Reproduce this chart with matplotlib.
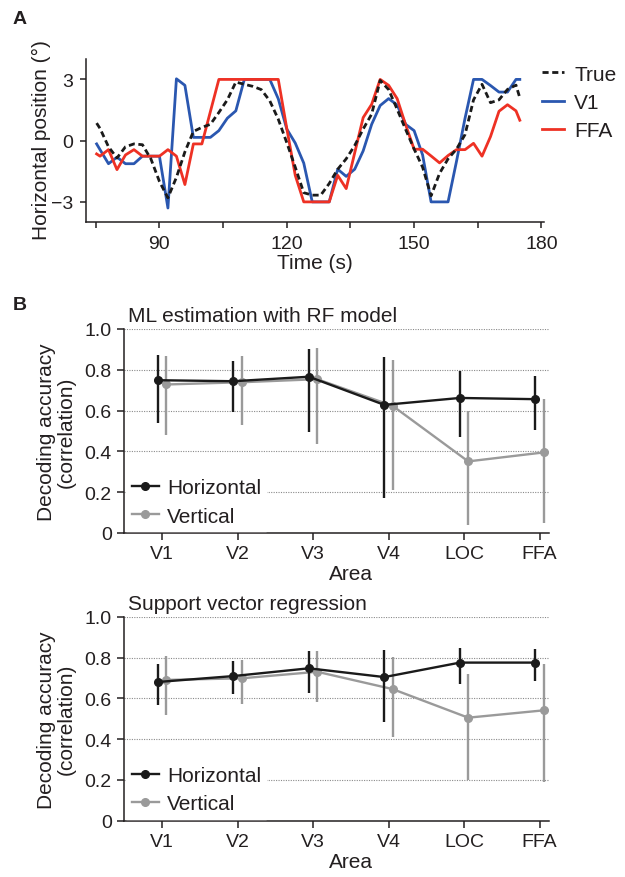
import numpy as np
import matplotlib
matplotlib.use('Agg')
import matplotlib.pyplot as plt
from matplotlib.ticker import FixedLocator
from matplotlib.lines import Line2D

plt.rcParams['font.family'] = ['Liberation Sans', 'DejaVu Sans']
TXT = '#231f20'
plt.rcParams['text.color'] = TXT
plt.rcParams['axes.labelcolor'] = TXT
plt.rcParams['xtick.color'] = TXT
plt.rcParams['ytick.color'] = TXT

# ---------------- Panel A data ----------------
time_s = [75.2, 76, 78, 80, 82, 84, 86, 88, 90, 92, 94, 96, 98, 100, 102, 104,
          106, 108, 110, 112, 114, 116, 118, 120, 122, 124, 126, 128, 130, 132,
          134, 136, 138, 140, 142, 144, 146, 148, 150, 152, 154, 156, 158, 160,
          162, 164, 166, 168, 170, 172, 174, 174.9]
true_pos = [0.86, 0.6, -0.3, -0.85, -0.3, -0.16, -0.2, -0.9, -2.0, -2.8, -1.8,
            -0.55, 0.45, 0.65, 0.8, 1.38, 2.0, 2.87, 2.76, 2.66, 2.5, 1.95, 1.05,
            -0.1, -1.3, -2.55, -2.67, -2.67, -2.1, -1.4, -0.89, -0.24, 0.57, 1.3,
            2.95, 2.5, 1.54, 0.55, -0.41, -1.3, -2.7, -1.6, -0.89, -0.41, 0.3,
            2.0, 2.76, 1.86, 2.0, 2.51, 2.72, 2.1]
v1_pos = [-0.16, -0.44, -1.13, -0.81, -1.13, -1.13, -0.76, -0.76, -0.76, -3.3,
          3.03, 2.71, 0.16, 0.16, 0.16, 0.49, 1.1, 1.46, 3.0, 3.0, 3.0, 3.0,
          2.05, 0.57, -0.12, -1.1, -3.0, -3.0, -3.0, -1.4, -1.75, -1.4, -0.5,
          0.8, 1.72, 2.06, 1.75, 0.8, 0.49, -0.7, -3.0, -3.0, -3.0, -1.0, 1.1,
          3.0, 3.0, 2.7, 2.38, 2.38, 3.0, 3.0]
ffa_pos = [-0.65, -0.76, -0.44, -1.42, -0.70, -0.44, -0.76, -0.76, -0.76, -0.44,
           -0.76, -2.15, -0.16, -0.16, 1.42, 3.0, 3.0, 3.0, 3.0, 3.0, 3.0, 3.0,
           3.0, 0.6, -1.7, -3.0, -3.0, -3.0, -3.0, -1.7, -2.35, -0.6, 1.13, 1.78,
           3.0, 2.71, 2.06, 0.78, -0.42, -0.42, -0.75, -1.09, -0.73, -0.44, -0.44,
           -0.13, -0.76, 0.2, 1.44, 1.76, 1.46, 1.0]

# ---------------- Panel B data ----------------
areas = ['V1', 'V2', 'V3', 'V4', 'LOC', 'FFA']
ml_h = [0.749, 0.744, 0.766, 0.628, 0.662, 0.656]
ml_h_lo = [0.538, 0.592, 0.497, 0.172, 0.470, 0.505]
ml_h_hi = [0.872, 0.844, 0.902, 0.864, 0.795, 0.769]
ml_v = [0.728, 0.739, 0.754, 0.623, 0.351, 0.395]
ml_v_lo = [0.480, 0.530, 0.434, 0.213, 0.038, 0.049]
ml_v_hi = [0.866, 0.866, 0.905, 0.848, 0.598, 0.656]
svr_h = [0.680, 0.709, 0.747, 0.704, 0.775, 0.775]
svr_h_lo = [0.567, 0.619, 0.627, 0.485, 0.672, 0.683]
svr_h_hi = [0.766, 0.781, 0.832, 0.838, 0.848, 0.840]
svr_v = [0.690, 0.698, 0.730, 0.645, 0.505, 0.541]
svr_v_lo = [0.516, 0.572, 0.583, 0.408, 0.201, 0.191]
svr_v_hi = [0.807, 0.789, 0.830, 0.801, 0.719, 0.768]

BLUE = '#2a57b0'
RED = '#ee3124'
BLACK = '#1a1a1a'
GREY = '#9a9a9a'
FS_T = 14
FS_L = 15

fig = plt.figure(figsize=(6.25, 8.78), dpi=100)

# ---------------- Panel A ----------------
axA = fig.add_axes([86 / 625, 1 - 223.3 / 878, (544 - 86) / 625, (223.3 - 60) / 878])
axA.plot(time_s, v1_pos, color=BLUE, lw=2.0, label='V1', zorder=2)
axA.plot(time_s, ffa_pos, color=RED, lw=2.0, label='FFA', zorder=3)
axA.plot(time_s, true_pos, color=BLACK, lw=2.0, ls=(0, (2.2, 1.3)), label='True', zorder=4)
axA.set_xlim(72.7, 180.6)
axA.set_ylim(-4, 4)
axA.xaxis.set_major_locator(FixedLocator([90, 120, 150, 180]))
axA.xaxis.set_minor_locator(FixedLocator([75, 105, 135, 165]))
axA.yaxis.set_major_locator(FixedLocator([-3, 0, 3]))
axA.set_yticklabels(['\u22123', '0', '3'])
for s in ['top', 'right']:
    axA.spines[s].set_visible(False)
for s in ['left', 'bottom']:
    axA.spines[s].set_linewidth(1.1)
    axA.spines[s].set_color(TXT)
axA.tick_params(which='both', direction='out', length=4, width=1.1, labelsize=FS_T, pad=5)
axA.set_xlabel('Time (s)', fontsize=FS_L, labelpad=1)
fig.text(41.7 / 625, 1 - 140 / 878, 'Horizontal position (\u00b0)', rotation=90,
         ha='center', va='center', fontsize=FS_L)
h = axA.get_legend_handles_labels()
order = [2, 0, 1]
axA.legend([h[0][i] for i in order], [h[1][i] for i in order],
           loc='upper left', bbox_to_anchor=(0.995, 0.965), frameon=False,
           borderpad=0, borderaxespad=0, handlelength=1.05, handletextpad=0.5,
           labelspacing=0.45, fontsize=FS_L)

fig.text(20 / 625, 1 - 19 / 878, 'A', fontsize=14, fontweight='bold', ha='center', va='center')
fig.text(20 / 625, 1 - 305 / 878, 'B', fontsize=14, fontweight='bold', ha='center', va='center')

# ---------------- Panel B ----------------
def panel_b(rect, title, h, hlo, hhi, v, vlo, vhi):
    ax = fig.add_axes(rect)
    x = np.arange(len(areas))
    off = 0.055
    ax.errorbar(x + off, v, yerr=[np.array(v) - np.array(vlo), np.array(vhi) - np.array(v)],
                color=GREY, lw=1.7, elinewidth=1.7, capsize=0, marker='o', ms=5.5,
                zorder=3)
    ax.errorbar(x - off, h, yerr=[np.array(h) - np.array(hlo), np.array(hhi) - np.array(h)],
                color=BLACK, lw=1.7, elinewidth=1.7, capsize=0, marker='o', ms=5.5,
                zorder=4)
    ax.set_xlim(-0.5, 5.12)
    ax.set_ylim(0, 1.0)
    ax.set_xticks(x)
    ax.set_xticklabels(areas)
    ax.set_yticks([0, 0.2, 0.4, 0.6, 0.8, 1.0])
    ax.set_yticklabels(['0', '0.2', '0.4', '0.6', '0.8', '1.0'])
    for yv in [0.2, 0.4, 0.6, 0.8, 1.0]:
        ax.axhline(yv, color='#8a8a8a', lw=0.8, ls=(0, (1, 1.2)), zorder=1)
    for s in ['top', 'right']:
        ax.spines[s].set_visible(False)
    for s in ['left', 'bottom']:
        ax.spines[s].set_linewidth(1.1)
        ax.spines[s].set_color(TXT)
    ax.tick_params(direction='out', length=5, width=1.1, labelsize=FS_T, pad=4)
    ax.text(3.0 / 5.62, -0.2, 'Area', transform=ax.transAxes,
            ha='center', va='center', fontsize=FS_L)
    ax.text(0.009, 1.065, title, transform=ax.transAxes, ha='left', va='center', fontsize=FS_L)
    handles = [Line2D([], [], color=BLACK, lw=1.7, marker='o', ms=5.5),
               Line2D([], [], color=GREY, lw=1.7, marker='o', ms=5.5)]
    leg = ax.legend(handles, ['Horizontal', 'Vertical'], loc='lower left',
                    bbox_to_anchor=(0.0, 0.0),
                    frameon=True, fancybox=False, framealpha=1.0, edgecolor='white',
                    facecolor='white', borderpad=0.25, borderaxespad=0.1,
                    handlelength=1.3, handletextpad=0.4, labelspacing=0.45,
                    fontsize=FS_L)
    leg.set_zorder(5)
    ax.text(-0.16, 0.5, 'Decoding accuracy\n(correlation)', transform=ax.transAxes,
            rotation=90, ha='center', va='center', fontsize=FS_L, linespacing=1.05)
    return ax

panel_b([124.3 / 625, 1 - 534 / 878, (548.6 - 124.3) / 625, 204 / 878],
        'ML estimation with RF model', ml_h, ml_h_lo, ml_h_hi, ml_v, ml_v_lo, ml_v_hi)
panel_b([124.3 / 625, 1 - 821.7 / 878, (548.6 - 124.3) / 625, 204 / 878],
        'Support vector regression', svr_h, svr_h_lo, svr_h_hi, svr_v, svr_v_lo, svr_v_hi)

fig.savefig('out.png', dpi=100)
